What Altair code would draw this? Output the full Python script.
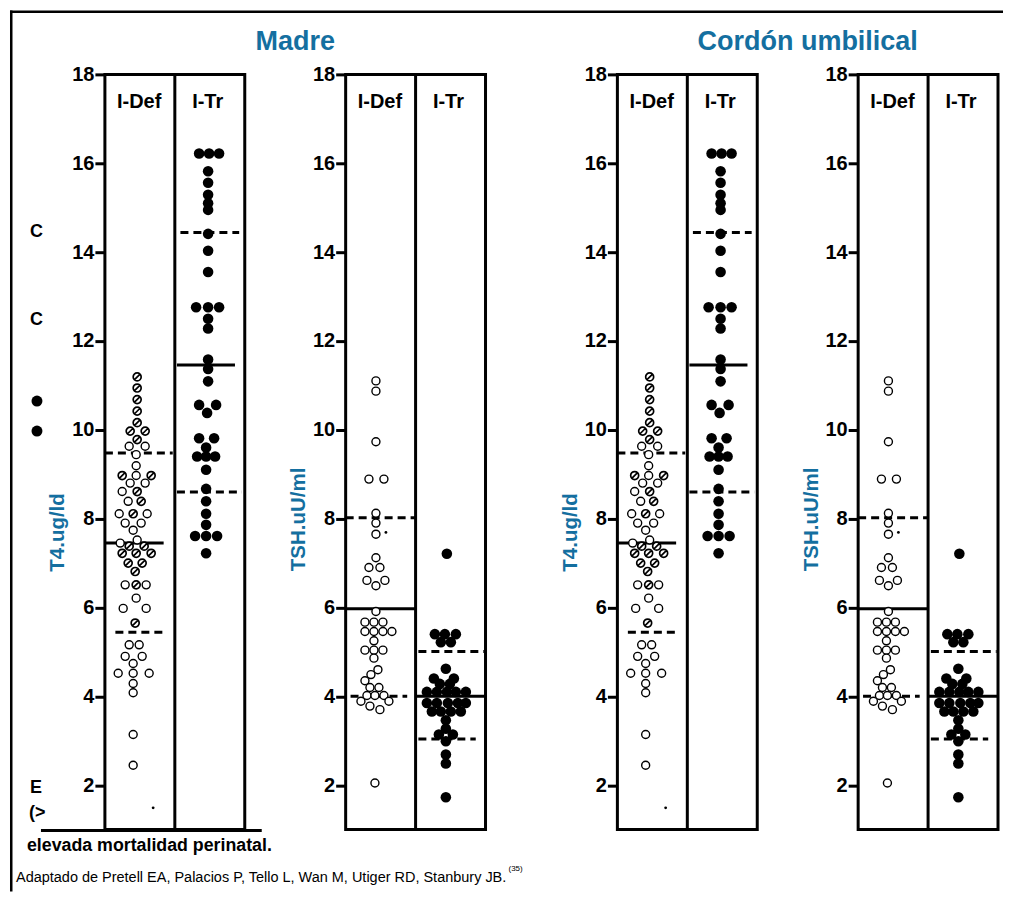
import altair as alt
import pandas as pd

BLUE = "#146fa0"
FONT = "Liberation Sans"

# ---------------- data ----------------
# T4 (ug/dl), iodine-deficient group: value, horizontal swarm offset (px), marker kind
t4_def_values = [11.19, 10.94, 10.68, 10.42, 10.16, 9.97, 9.97, 9.78, 9.63, 9.63,
                 9.44, 9.19, 8.97, 8.97, 8.97, 8.80, 8.80, 8.61, 8.61, 8.39,
                 8.39, 8.11, 8.11, 8.11, 7.90, 7.90, 7.74, 7.52, 7.45, 7.38,
                 7.38, 7.22, 7.22, 7.22, 7.00, 7.00, 6.81, 6.51, 6.51, 6.51,
                 6.21, 5.98, 5.98, 5.65, 5.16, 5.16, 4.90, 4.90, 4.74, 4.52,
                 4.52, 4.52, 4.29, 4.08, 3.14, 2.45, 1.49]
t4_def_jitter = [-2, -2, -2, -2, -2, -9, 6, -2, -10, 6,
                 -3, -3, -17, -3, 12, -9, 6, -17, -2, -11,
                 2, -20, -6, 8, -14, 2, -6, -2, -19, -10,
                 5, -17, -3, 12, -11, 3, -4, -14, -3, 7,
                 -3, -16, 7, -4, -10, 0, -14, 3, -6, -21,
                 -6, 10, -6, -6, -6, -6, 14]
t4_def_kind = list("HHHHHHHH" + "OOOO" + "H" + "O" + "H" + "OOO" + "H" + "O" + "H" + "O" + "H"
                   + "OOOOOO" + "HHHHHHHH" + "O" + "H" + "OOOO" + "H" + "OOOOOOOOOOOO" + "T")

# T4, iodine-treated group
t4_tr_values = [16.22, 16.22, 16.22, 15.82, 15.56, 15.29, 15.10, 14.95, 14.41, 14.03,
                13.55, 12.76, 12.76, 12.76, 12.50, 12.28, 11.58, 11.37, 11.09, 10.56,
                10.56, 10.38, 9.81, 9.81, 9.60, 9.40, 9.40, 9.40, 9.10, 8.67,
                8.39, 8.11, 7.86, 7.61, 7.61, 7.61, 7.22]
t4_tr_jitter = [-10, 0, 10, -1, -1, -1, -1, -1, -1, -1,
                -1, -13, -1, 10, -1, -1, -1, -1, -1, -10,
                7, -2, -10, 5, -3, -12, -3, 6, -3, -3,
                -3, -3, -3, -14, -3, 8, -3]

# TSH (uU/ml), iodine-deficient group
tsh_def_values = [11.10, 10.87, 9.73, 8.89, 8.89, 8.12, 7.90, 7.65, 7.69, 7.12,
                  6.90, 6.90, 6.61, 6.61, 6.49, 5.91, 5.67, 5.67, 5.67, 5.46,
                  5.46, 5.46, 5.46, 5.25, 5.04, 5.04, 5.04, 4.86, 4.60, 4.49,
                  4.35, 4.20, 4.20, 4.02, 4.02, 4.02, 3.89, 3.89, 3.78, 3.70,
                  2.05]
tsh_def_jitter = [-4, -4, -4, -11, 4, -4, -4, -4, 6, -4,
                  -11, 0, -13, 5, -4, -4, -15, -6, 3, -15,
                  -6, 3, 12, -6, -15, -6, 3, -6, -2, -9,
                  -15, -10, -1, -13, -5, 4, -19, 9, -10, 0,
                  -5]
tsh_def_kind = list("O" * 8 + "T" + "O" * 32)

# TSH, iodine-treated group
tsh_tr_values = [7.21, 5.40, 5.40, 5.40, 5.22, 5.22, 4.62, 4.40, 4.40, 4.28,
                 4.28, 4.10, 4.10, 4.10, 4.10, 4.10, 3.85, 3.85, 3.85, 3.85,
                 3.85, 3.66, 3.66, 3.66, 3.66, 3.46, 3.27, 3.14, 3.14, 2.99,
                 2.69, 2.49, 1.73]
tsh_tr_jitter = [-3, -15, -5, 6, -9, 1, -4, -16, 4, -10,
                 0, -23, -13, -3, 6, 16, -23, -13, -2, 8,
                 16, -18, -9, 1, 11, -4, -4, -11, 3, -4,
                 -4, -4, -4]

# mean (solid) and +/- SD (dashed) lines: value, horizontal extent in column units
t4_line_values = [9.48, 7.45, 5.44, 14.44, 11.46, 8.60]
t4_line_from = [0.0, 0.0, 0.15, 1.08, 1.03, 1.03]
t4_line_to = [0.97, 0.84, 0.87, 1.92, 1.86, 1.96]
tsh_line_values = [8.02, 5.97, 4.00, 5.01, 4.00, 3.04]
tsh_line_from = [0.0, 0.0, 0.07, 1.04, 1.00, 1.04]
tsh_line_to = [1.0, 1.0, 0.88, 1.98, 2.00, 1.86]
line_kind = ["sd", "mean", "sd", "sd", "mean", "sd"]

groups = ["I-Def", "I-Tr"]
group_pos = [0.49, 1.47]
y_ticks = [2, 4, 6, 8, 10, 12, 14, 16, 18]

HATCH = "M-1,0A1,1,0,1,1,1,0A1,1,0,1,1,-1,0ZM-0.72,0.72L0.72,-0.72"

xscale = alt.Scale(domain=[0, 2], nice=False, zero=False)
yscale = alt.Scale(domain=[1, 18], nice=False, zero=False)


def y_axis(title, title_y):
    return alt.Axis(values=y_ticks, title=title, grid=False, domain=False,
                    tickColor="black", tickSize=10, tickWidth=3,
                    labelFont=FONT, labelFontSize=20, labelFontWeight="bold",
                    labelColor="black", labelPadding=1,
                    titleFont=FONT, titleFontSize=20.5, titleFontWeight="bold",
                    titleColor=BLUE, titleX=-47, titleY=title_y, titleAngle=270,
                    titleAlign="center", titleBaseline="middle")


def panel(def_v, def_j, def_k, tr_v, tr_j, lv, lf, lt, ytitle, title_y, extra=None):
    yax = y_axis(ytitle, title_y)
    dots = pd.DataFrame({
        "value": def_v + tr_v,
        "jitter": def_j + tr_j,
        "col": [0] * len(def_v) + [1] * len(tr_v),
        "kind": def_k + ["F"] * len(tr_v),
    })
    lines = pd.DataFrame({"value": lv, "x0": lf, "x1": lt, "kind": line_kind})
    div = pd.DataFrame({"x": [1.0], "lo": [1.0], "hi": [18.0]})
    hdr = pd.DataFrame({"label": groups, "xpos": group_pos})

    lbase = alt.Chart(lines).encode(
        x=alt.X("x0:Q", scale=xscale, axis=None), x2="x1:Q",
        y=alt.Y("value:Q", scale=yscale, axis=yax))
    solid = lbase.transform_filter("datum.kind == 'mean'").mark_rule(
        strokeWidth=3, color="black")
    dashed = lbase.transform_filter("datum.kind == 'sd'").mark_rule(
        strokeWidth=3, color="black", strokeDash=[8, 5])
    divider = alt.Chart(div).mark_rule(strokeWidth=3, color="black").encode(
        x=alt.X("x:Q", scale=xscale, axis=None),
        y=alt.Y("lo:Q", scale=yscale, axis=yax), y2="hi:Q")

    dbase = alt.Chart(dots).transform_calculate(
        xpos="datum.col + 0.49 + datum.jitter / 70"
    ).encode(x=alt.X("xpos:Q", scale=xscale, axis=None),
             y=alt.Y("value:Q", scale=yscale, axis=yax))
    open_c = dbase.transform_filter("datum.kind == 'O'").mark_point(
        shape="circle", filled=True, fill="white", stroke="black",
        strokeWidth=1.4, size=64, opacity=1)
    hatch_c = dbase.transform_filter("datum.kind == 'H'").mark_point(
        shape=HATCH, filled=True, fill="white", stroke="black",
        strokeWidth=1.7, size=64, opacity=1)
    filled_c = dbase.transform_filter("datum.kind == 'F'").mark_point(
        shape="circle", filled=True, color="black", size=112, opacity=1)
    tiny_c = dbase.transform_filter("datum.kind == 'T'").mark_point(
        shape="circle", filled=True, color="black", size=8, opacity=1)

    headers = alt.Chart(hdr).mark_text(
        font=FONT, fontSize=20, fontWeight="bold", color="black",
        baseline="alphabetic", align="center").encode(
        x=alt.X("xpos:Q", scale=xscale, axis=None), y=alt.value(34), text="label:N")

    layers = [solid, dashed, divider, open_c, hatch_c, filled_c, tiny_c, headers]
    if extra:
        layers += extra
    return alt.layer(*layers).properties(width=140, height=756)


one = pd.DataFrame({"k": [0]})


def note(text, x, y, size, weight="normal", color="black", align="left", baseline="alphabetic"):
    return alt.Chart(one).mark_text(
        font=FONT, fontSize=size, fontWeight=weight, color=color,
        align=align, baseline=baseline).encode(
        x=alt.value(x), y=alt.value(y), text=alt.value(text))


def bar(x, x2, y, y2):
    # solid black band (no stroke, so its bounds are exact)
    return alt.Chart(one).mark_rect(color="black", strokeWidth=0).encode(
        x=alt.value(x), x2=alt.value(x2), y=alt.value(y), y2=alt.value(y2))


def bullet(x, y):
    return alt.Chart(one).mark_point(shape="circle", filled=True, color="black",
                                     size=121, opacity=1).encode(
        x=alt.value(x), y=alt.value(y))


extra_p1 = [
    bar(-95, 899, -64, -61.5),
    bar(-95, -92.5, -64, 818),
    bar(-64, 157, 755.5, 758.5),
    note("Madre", 190.5, -24, 27, "bold", BLUE, "center"),
    note("C", -75, 163, 18, "bold"),
    note("C", -75, 251, 18, "bold"),
    bullet(-68, 327),
    bullet(-68, 357),
    note("E", -75, 719, 18, "bold"),
    note("(>", -76, 744, 18, "bold"),
    note("elevada mortalidad perinatal.", -78, 777, 17.8, "bold"),
    note("Adaptado de Pretell EA, Palacios P, Tello L, Wan M, Utiger RD, Stanbury JB.",
         -89, 808, 14.5),
    note("(35)", 404, 797, 8),
]
extra_p3 = [note("Cordón umbilical", 190.5, -24, 27, "bold", BLUE, "center")]

p1 = panel(t4_def_values, t4_def_jitter, t4_def_kind, t4_tr_values, t4_tr_jitter,
           t4_line_values, t4_line_from, t4_line_to, "T4.ug/ld", 458, extra_p1)
p2 = panel(tsh_def_values, tsh_def_jitter, tsh_def_kind, tsh_tr_values, tsh_tr_jitter,
           tsh_line_values, tsh_line_from, tsh_line_to, "TSH.uU/ml", 445)
p3 = panel(t4_def_values, t4_def_jitter, t4_def_kind, t4_tr_values, t4_tr_jitter,
           t4_line_values, t4_line_from, t4_line_to, "T4.ug/ld", 458, extra_p3)
p4 = panel(tsh_def_values, tsh_def_jitter, tsh_def_kind, tsh_tr_values, tsh_tr_jitter,
           tsh_line_values, tsh_line_from, tsh_line_to, "TSH.uU/ml", 445)


def spacer(w):
    return alt.Chart(one).mark_point(opacity=0).encode(
        x=alt.X("k:Q", axis=None), y=alt.Y("k:Q", axis=None)
    ).properties(width=w, height=756, view=alt.ViewBackground(stroke="transparent"))


chart = alt.hconcat(p1, spacer(101), p2, spacer(132), p3, spacer(101), p4,
                    spacing=0, bounds="flush").properties(
    padding={"left": 0, "top": 0, "right": 0, "bottom": 0}, background="white"
).configure(padding={"left": 0, "top": 0, "right": 0, "bottom": 0}
).configure_view(stroke="black", strokeWidth=3)

chart.save("out.html", embed_options={"renderer": "svg", "actions": False})
